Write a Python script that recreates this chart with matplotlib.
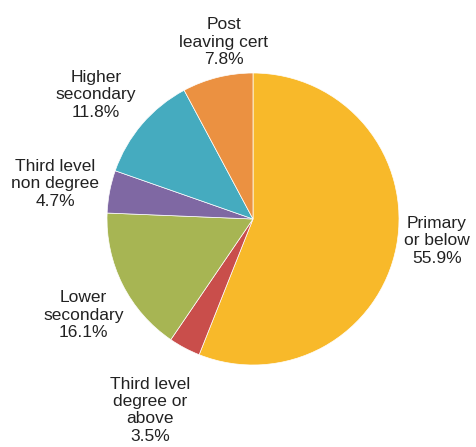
import numpy as np
import matplotlib.pyplot as plt

plt.rcParams['font.family'] = ['Liberation Sans', 'DejaVu Sans']

# education level shares, clockwise from 12 o'clock
labels = ['Primary\nor below', 'Third level\ndegree or\nabove', 'Lower\nsecondary',
          'Third level\nnon degree', 'Higher\nsecondary', 'Post\nleaving cert']
shares = [55.9, 3.5, 16.1, 4.7, 11.8, 7.8]
colors = ['#F8B92A', '#C94E4B', '#A7B553', '#7F68A3', '#45ABBF', '#EB9141']

# label anchor points (axes data units, pie radius = 1)
label_xy = [(1.26, -0.15), (-0.705, -1.31), (-1.16, -0.66),
            (-1.355, 0.24), (-1.075, 0.85), (-0.2, 1.21)]

fig = plt.figure(figsize=(4.76, 4.47), dpi=100)
cx, cy, r = 253, 219, 146
ax = fig.add_axes([(cx - r) / 476, (447 - cy - r) / 447, 2 * r / 476, 2 * r / 447])
ax.pie(shares, colors=colors, startangle=90, counterclock=False, radius=1,
       wedgeprops=dict(edgecolor='white', linewidth=0.5))
ax.set_xlim(-1, 1)
ax.set_ylim(-1, 1)
ax.set_aspect('auto')
ax.axis('off')

for lab, val, (x, y) in zip(labels, shares, label_xy):
    ax.text(x, y, f'{lab}\n{val}%', ha='center', va='center', fontsize=12.5,
            color='#222222', linespacing=1.2, clip_on=False)

fig.savefig('out.png', dpi=100)
